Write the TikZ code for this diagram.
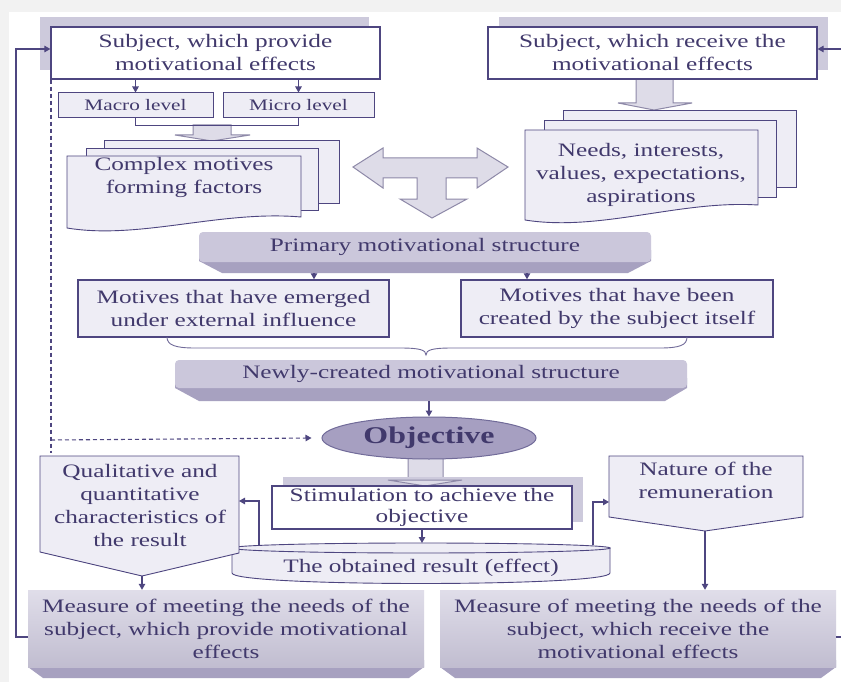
\documentclass[tikz,border=0pt]{standalone}
\usepackage{fontspec}
\setmainfont{Liberation Serif}[FakeStretch=1.33]
\usetikzlibrary{arrows.meta,shapes.geometric,calc}
\definecolor{txt}{HTML}{41396C}
\definecolor{linec}{HTML}{4E4680}
\definecolor{lightf}{HTML}{EEEDF5}
\definecolor{shadowc}{HTML}{CDCADC}
\definecolor{blkfill}{HTML}{DEDCE8}
\definecolor{blkline}{HTML}{8E89A8}
\definecolor{barface}{HTML}{CBC7DB}
\definecolor{barbev}{HTML}{A7A1C0}
\definecolor{objfill}{HTML}{A69FC1}
\definecolor{pagec}{HTML}{F2F2F2}
\newcommand\mainfs{\fontsize{19}{23}\selectfont}
\newcommand\smallfs{\fontsize{16}{19}\selectfont}
\newcommand\objfs{\fontsize{24}{28}\selectfont\bfseries}
\tikzset{
 arr/.style={draw=linec, line width=1.1pt, -{Triangle[length=6pt,width=6.5pt]}},
 conn/.style={draw=linec, line width=1.1pt},
 wbox/.style={draw=linec, fill=white, line width=1.2pt, align=center, inner sep=0pt, text=txt, font=\mainfs},
 lbox/.style={draw=linec, fill=lightf, line width=1.5pt, align=center, inner sep=0pt, text=txt, font=\mainfs},
 doc/.style={draw=linec, fill=lightf, line width=0.9pt},
 blk/.style={draw=blkline, fill=blkfill, line width=1pt},
 lbl/.style={align=center, inner sep=0pt, text=txt, font=\mainfs},
 barnode/.style={fill=barface, rounded corners=4pt, align=center, inner sep=0pt, text=txt, font=\mainfs},
 bevel/.style={fill=barbev},
 bottomface/.style={top color=D3D0E3, bottom color=C2BED6, align=center, inner sep=0pt, text=txt, font=\mainfs},
}
\colorlet{D3D0E3}{barface!60!white}
\colorlet{C2BED6}{barface!95!black}
\begin{document}
\begin{tikzpicture}[x=1pt,y=-1pt]
\useasboundingbox (0,0) rectangle (841,682);
\fill[pagec] (0,0) rectangle (841,682);
\fill[white] (9,12) rectangle (841,682);

% top boxes
\fill[shadowc] (40,17) rectangle (369,70);
\fill[shadowc] (499,17) rectangle (828,70);
\path[blk] (636,79) -- (673,79) -- (673,103) -- (692,103) -- (654,110) -- (618,103) -- (636,103) -- cycle;
\node[wbox, minimum width=329pt, minimum height=52pt] (s1) at (215.5,53) {Subject, which provide\\motivational effects};
\node[wbox, minimum width=329pt, minimum height=52pt] (s2) at (652.5,53) {Subject, which receive the\\motivational effects};

% macro / micro
\node[lbox, font=\smallfs, line width=1pt, minimum width=155pt, minimum height=25pt] (macro) at (135.5,105.5) {Macro level};
\node[lbox, font=\smallfs, line width=1pt, minimum width=151pt, minimum height=25pt] (micro) at (298.5,105.5) {Micro level};
\draw[arr] (s1.south -| macro.north) -- (macro.north);
\draw[arr] (s1.south -| micro.north) -- (micro.north);
\path[blk] (193,125) -- (231,125) -- (231,135) -- (250,135) -- (212,141) -- (175,135) -- (193,135) -- cycle;
\draw[conn] (macro.south) -- ++(0,7) -| (micro.south);

% left documents
\path[doc] (104,140) rectangle (339,203);
\path[doc] (86,148) rectangle (318,210);
\path[doc] (67,156) -- (301,156) -- (301,217) .. controls (220,210) and (140,240) .. (67,228) -- cycle;
\node[lbl] (cmf) at (184,177) {Complex motives\\forming factors};

% right documents
\path[doc] (563,110) rectangle (796,187);
\path[doc] (544,120) rectangle (776,197);
\path[doc] (525,130) -- (758,130) -- (758,205) .. controls (680,200) and (600,232) .. (525,220) -- cycle;
\node[lbl] (needs) at (641,175) {Needs, interests,\\values, expectations,\\aspirations};

% T arrow
\path[blk] (353,167) -- (383,148) -- (383,158) -- (477,158) -- (477,148) -- (508,167) -- (477,188) -- (477,178) -- (446,178) -- (446,199) -- (467,199) -- (432,218) -- (400,199) -- (417,199) -- (417,178) -- (383,178) -- (383,188) -- cycle;

% primary structure
\path[bevel] (199,250) -- (651,250) -- (651,261) -- (628,273) -- (222,273) -- (199,261) -- cycle;
\node[barnode, minimum width=452pt, minimum height=30pt] (prim) at (425,247) {Primary motivational structure};
\coordinate (primL) at (314,273);
\coordinate (primR) at (527,273);

% motive boxes
\node[lbox, minimum width=311pt, minimum height=57pt] (m1) at (233.5,308.5) {Motives that have emerged\\under external influence};
\node[lbox, minimum width=312pt, minimum height=57pt] (m2) at (617,308.5) {Motives that have been\\created by the subject itself};
\draw[arr] (primL) -- (m1.north -| primL);
\draw[arr] (primR) -- (m2.north -| primR);

% brace
\draw[draw=linec!80, line width=0.9pt] (167,337) .. controls (167,345) and (175,348) .. (195,348) -- (400,348) .. controls (420,348) and (426,350) .. (426,355)
  .. controls (426,350) and (432,348) .. (452,348) -- (660,348) .. controls (680,348) and (687,345) .. (687,337);

% newly created
\path[bevel] (175,378) -- (687,378) -- (687,388) -- (665,401) -- (199,401) -- (175,388) -- cycle;
\node[barnode, minimum width=512pt, minimum height=28pt] (newly) at (431,374) {Newly-created motivational structure};
\coordinate (newlyB) at (429,401);

% objective
\path[blk] (408,456) -- (443,456) -- (443,480) -- (462,480) -- (425,486) -- (388,480) -- (408,480) -- cycle;
\node[ellipse, draw=linec!80, fill=objfill, line width=1pt, minimum width=214pt, minimum height=42pt, inner sep=0pt, text=txt, font=\objfs] (obj) at (429,438) {Objective};
\draw[arr] (newlyB) -- (obj.north);

% dashed feedback
\draw[conn, dashed, dash pattern=on 4pt off 3pt] (s1.south -| 51,0) -- (51,453);
\draw[arr, dashed, dash pattern=on 4pt off 3pt] (51,440) -- ([xshift=-10pt]obj.west);

% stimulation
\fill[shadowc] (283,477) rectangle (583,522);
\path[blk] (388,480) -- (425,486) -- (462,480) -- cycle;
\node[wbox, minimum width=300pt, minimum height=43pt, font=\fontsize{19}{21}\selectfont] (stim) at (422,507.5) {Stimulation to achieve the\\objective};

% cylinder
\path[doc] (232,548) -- (232,573) .. controls (232,587) and (610,587) .. (610,573) -- (610,548) -- cycle;
\path[doc] (421,548) ellipse [x radius=189pt, y radius=5pt];
\node[lbl] (res) at (421,568) {The obtained result (effect)};
\draw[arr] (stim.south) -- (stim.south |- 0,543);

% pentagons
\path[doc] (40,456) -- (239,456) -- (239,553) -- (142,576) -- (40,552) -- cycle;
\node[lbl] (qual) at (140,505) {Qualitative and\\quantitative\\characteristics of\\the result};
\coordinate (qualTip) at (142,576);
\coordinate (qualE) at (239,501);
\path[doc] (609,456) -- (803,456) -- (803,517) -- (705,531) -- (609,517) -- cycle;
\node[lbl] (nat) at (706,480) {Nature of the\\remuneration};
\coordinate (natTip) at (705,531);
\coordinate (natW) at (609,502);
\draw[arr] (259,545) -- (259,501) -- (qualE);
\draw[arr] (593,545) -- (593,502) -- (natW);

% bottom boxes
\path[bevel] (28,660) -- (424,660) -- (424,667) -- (409,678) -- (43,678) -- (28,667) -- cycle;
\path[bevel] (440,660) -- (836,660) -- (836,667) -- (821,678) -- (455,678) -- (440,667) -- cycle;
\node[bottomface, minimum width=396pt, minimum height=77pt] (mL) at (226,628.5) {Measure of meeting the needs of the\\subject, which provide motivational\\effects};
\node[bottomface, minimum width=396pt, minimum height=77pt] (mR) at (638,628.5) {Measure of meeting the needs of the\\subject, which receive the\\motivational effects};
\draw[arr] (qualTip) -- (qualTip |- mL.north);
\draw[arr] (natTip) -- (natTip |- mR.north);

% outer feedback loops
\draw[arr] (mL.west |- 0,637) -- (16,637) -- (16,49) -- (s1.west |- 0,49);
\draw[arr] (mR.east |- 0,637) -- (850,637) -- (850,49) -- (s2.east |- 0,49);
\end{tikzpicture}
\end{document}
